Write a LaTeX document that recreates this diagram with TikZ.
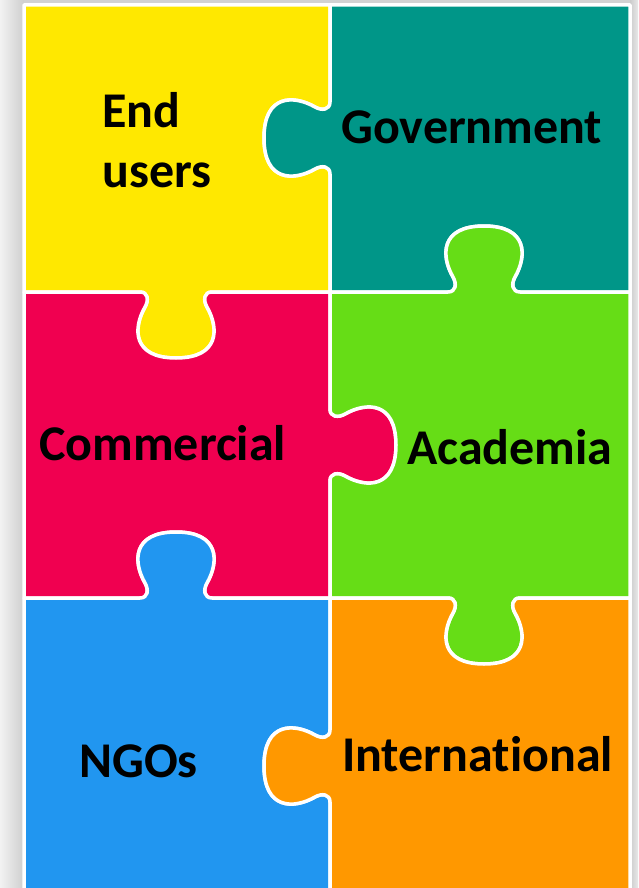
\documentclass[tikz,border=0pt]{standalone}
\usepackage{fontspec}
\setmainfont{Carlito}[Ligatures=NoCommon]
\usepackage{tikz}
\usetikzlibrary{positioning}
\usepackage{xcolor}

\definecolor{pzyellow}{RGB}{255,232,0}
\definecolor{pzteal}{RGB}{0,150,136}
\definecolor{pzpink}{RGB}{240,0,80}
\definecolor{pzgreen}{RGB}{102,221,22}
\definecolor{pzblue}{RGB}{33,150,240}
\definecolor{pzorange}{RGB}{255,152,0}

% one tab of a piece: centre x, centre y, run direction (x,y), outward direction (x,y)
\newcommand{\tab}[6]{%
 -- ({#1-36*(#3)},{#2-36*(#4)})
 .. controls ({#1-28*(#3)},{#2-28*(#4)}) and ({#1-27*(#3)+8*(#5)},{#2-27*(#4)+8*(#6)}) .. ({#1-31*(#3)+15*(#5)},{#2-31*(#4)+15*(#6)})
 .. controls ({#1-43*(#3)+36*(#5)},{#2-43*(#4)+36*(#6)}) and ({#1-44*(#3)+66*(#5)},{#2-44*(#4)+66*(#6)}) .. ({#1+66*(#5)},{#2+66*(#6)})
 .. controls ({#1+44*(#3)+66*(#5)},{#2+44*(#4)+66*(#6)}) and ({#1+43*(#3)+36*(#5)},{#2+43*(#4)+36*(#6)}) .. ({#1+31*(#3)+15*(#5)},{#2+31*(#4)+15*(#6)})
 .. controls ({#1+27*(#3)+8*(#5)},{#2+27*(#4)+8*(#6)}) and ({#1+28*(#3)},{#2+28*(#4)}) .. ({#1+36*(#3)},{#2+36*(#4)})
}

\begin{document}
\begin{tikzpicture}[
    x=1pt, y=-1pt,
    piece/.style = {draw=white, line width=3.5pt, line join=round},
    lbl/.style = {inner sep=0pt, anchor=base west, align=left, font=\bfseries\fontsize{50}{60}\selectfont}
]
\useasboundingbox (0,0) rectangle (638,888);
\clip (0,0) rectangle (638,888);

% shadow behind the puzzle
\fill[gray!22] (0,0) rectangle (638,888);
\shade[left color=gray!10, right color=gray!38] (0,0) rectangle (24,888);
\shade[left color=gray!40, right color=gray!18] (630,0) rectangle (638,888);
\fill[gray!35] (24,0) rectangle (630,5);

% pieces
\path[piece, fill=pzyellow] (24,5) -- (330,5) \tab{330}{138}{0}{1}{-1}{0} -- (330,292) \tab{176}{292}{-1}{0}{0}{1} -- (24,292) -- cycle;
\path[piece, fill=pzteal] (330,5) -- (630,5) -- (630,292) \tab{484}{292}{-1}{0}{0}{-1} -- (330,292) \tab{330}{138}{0}{-1}{-1}{0} -- cycle;
\path[piece, fill=pzpink] (24,292) \tab{176}{292}{1}{0}{0}{1} -- (330,292) \tab{330}{445}{0}{1}{1}{0} -- (330,598) \tab{176}{598}{-1}{0}{0}{-1} -- (24,598) -- cycle;
\path[piece, fill=pzgreen] (330,292) \tab{484}{292}{1}{0}{0}{-1} -- (630,292) -- (630,598) \tab{484}{598}{-1}{0}{0}{1} -- (330,598) \tab{330}{445}{0}{-1}{1}{0} -- cycle;
\path[piece, fill=pzblue] (24,598) \tab{176}{598}{1}{0}{0}{-1} -- (330,598) \tab{330}{766}{0}{1}{-1}{0} -- (330,895) -- (24,895) -- cycle;
\path[piece, fill=pzorange] (330,598) \tab{484}{598}{1}{0}{0}{1} -- (630,598) -- (630,895) -- (330,895) \tab{330}{766}{0}{-1}{-1}{0} -- cycle;

% labels
\node (end_users) [lbl] at (102,187) {End\\users};
\node (government) [lbl] at (341,143) {Government};
\node (commercial) [lbl] at (39,460) {Commercial};
\node (academia) [lbl] at (407,464) {Academia};
\node (ngos) [lbl] at (79,777) {NGOs};
\node (international) [lbl] at (342,771) {International};

\end{tikzpicture}
\end{document}
